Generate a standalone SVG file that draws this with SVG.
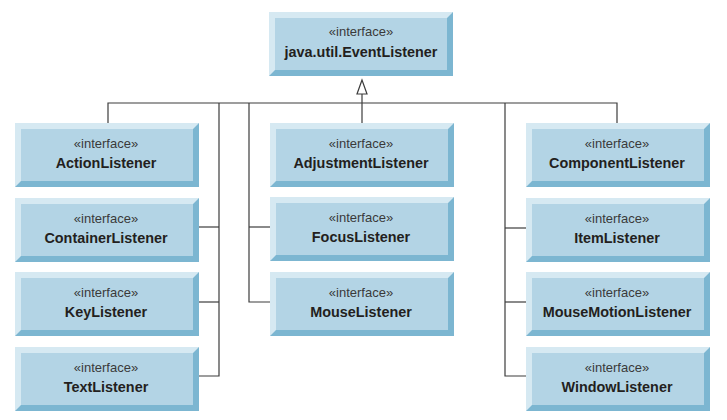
<svg xmlns="http://www.w3.org/2000/svg" xmlns:xlink="http://www.w3.org/1999/xlink" width="727" height="420" viewBox="0 0 727 420">
<style>
.face{fill:#b3d4e5}
.lite{fill:#d6e9f2}
.dark{fill:#7cb6d1}
.st{font-family:"Liberation Sans",Arial,sans-serif;font-size:13px;fill:#3a3a3a;text-anchor:middle}
.nm{font-family:"Liberation Sans",Arial,sans-serif;font-size:14.4px;font-weight:bold;fill:#231f20;text-anchor:middle}
.conn{fill:none;stroke:#3c3c3c;stroke-width:1.2}
</style>
<defs>
<g id="box">
<rect class="dark" x="0" y="0" width="184" height="64"/>
<polygon class="lite" points="0,0 184,0 178,6 6,6 6,58 0,64"/>
<rect class="face" x="6" y="6" width="172" height="52"/>
</g>
</defs>
<rect width="727" height="420" fill="#ffffff"/>
<g id="connectors">
<polyline class="conn" points="362,94 362,123"/>
<polygon points="362,80 357,94 367,94" fill="#ffffff" stroke="#3c3c3c" stroke-width="1.2"/>
<polyline class="conn" points="108,123 108,103 617,103 617,123"/>
<polyline class="conn" points="219,103 219,376 199,376"/>
<line class="conn" x1="199" y1="227" x2="219" y2="227"/>
<line class="conn" x1="199" y1="302" x2="219" y2="302"/>
<polyline class="conn" points="249,103 249,302 270,302"/>
<line class="conn" x1="249" y1="227" x2="270" y2="227"/>
<polyline class="conn" points="505,103 505,376 526,376"/>
<line class="conn" x1="505" y1="228" x2="526" y2="228"/>
<line class="conn" x1="505" y1="302" x2="526" y2="302"/>
</g>
<g id="EventListener">
<use xlink:href="#box" href="#box" x="269" y="12"/>
<text class="st" x="361" y="36">«interface»</text>
<text class="nm" x="361" y="57">java.util.EventListener</text>
</g>
<g id="ActionListener">
<use xlink:href="#box" href="#box" x="15" y="123"/>
<text class="st" x="106" y="148">«interface»</text>
<text class="nm" x="106" y="168">ActionListener</text>
</g>
<g id="ContainerListener">
<use xlink:href="#box" href="#box" x="15" y="198"/>
<text class="st" x="106" y="223">«interface»</text>
<text class="nm" x="106" y="243">ContainerListener</text>
</g>
<g id="KeyListener">
<use xlink:href="#box" href="#box" x="15" y="272"/>
<text class="st" x="106" y="297">«interface»</text>
<text class="nm" x="106" y="317">KeyListener</text>
</g>
<g id="TextListener">
<use xlink:href="#box" href="#box" x="15" y="347"/>
<text class="st" x="106" y="372">«interface»</text>
<text class="nm" x="106" y="392">TextListener</text>
</g>
<g id="AdjustmentListener">
<use xlink:href="#box" href="#box" x="270" y="123"/>
<text class="st" x="361" y="148">«interface»</text>
<text class="nm" x="361" y="168">AdjustmentListener</text>
</g>
<g id="FocusListener">
<use xlink:href="#box" href="#box" x="270" y="197"/>
<text class="st" x="361" y="222">«interface»</text>
<text class="nm" x="361" y="242">FocusListener</text>
</g>
<g id="MouseListener">
<use xlink:href="#box" href="#box" x="270" y="272"/>
<text class="st" x="361" y="297">«interface»</text>
<text class="nm" x="361" y="317">MouseListener</text>
</g>
<g id="ComponentListener">
<use xlink:href="#box" href="#box" x="526" y="123"/>
<text class="st" x="617" y="148">«interface»</text>
<text class="nm" x="617" y="168">ComponentListener</text>
</g>
<g id="ItemListener">
<use xlink:href="#box" href="#box" x="526" y="198"/>
<text class="st" x="617" y="223">«interface»</text>
<text class="nm" x="617" y="243">ItemListener</text>
</g>
<g id="MouseMotionListener">
<use xlink:href="#box" href="#box" x="526" y="272"/>
<text class="st" x="617" y="297">«interface»</text>
<text class="nm" x="617" y="317">MouseMotionListener</text>
</g>
<g id="WindowListener">
<use xlink:href="#box" href="#box" x="526" y="347"/>
<text class="st" x="617" y="372">«interface»</text>
<text class="nm" x="617" y="392">WindowListener</text>
</g>
</svg>
